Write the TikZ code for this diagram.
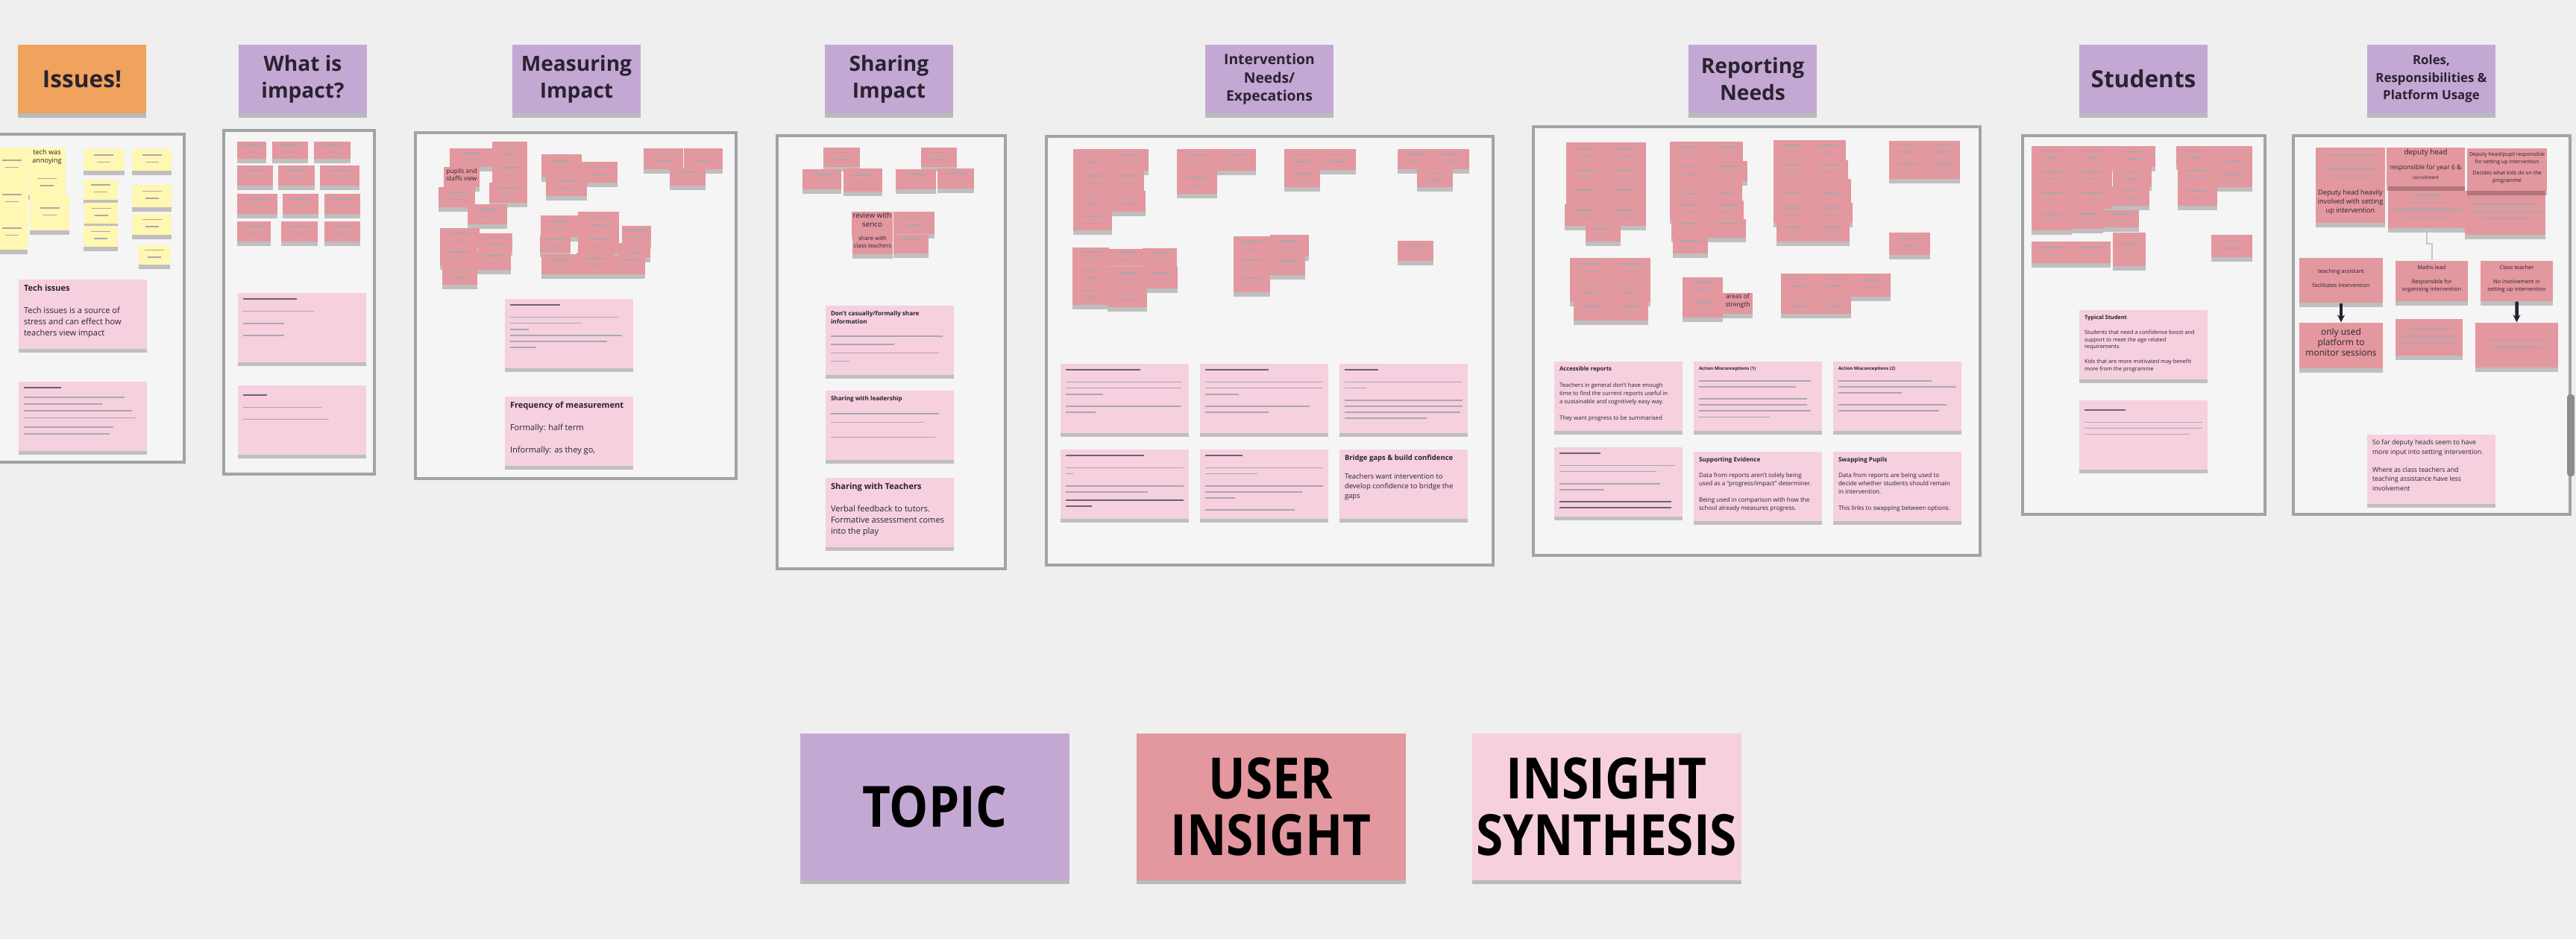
\documentclass[tikz,border=0pt]{standalone}
\usepackage{fontspec}
\setmainfont{Open Sans}
\usetikzlibrary{arrows.meta,positioning,fit,shadows}
\definecolor{boardgray}{HTML}{EFEFEF}
\definecolor{framefill}{HTML}{F5F5F5}
\definecolor{framegray}{HTML}{A3A3A3}
\definecolor{topicpurple}{HTML}{C4A8D4}
\definecolor{issueorange}{HTML}{EFA35C}
\definecolor{insightred}{HTML}{E3979E}
\definecolor{synthpink}{HTML}{F6D0DF}
\definecolor{noteyellow}{HTML}{FFF7B2}
\definecolor{inkdark}{HTML}{2A2230}
\newcommand{\scrib}[1]{\textcolor{inkdark!40}{\rule[0.1mm]{#1}{0.17mm}}}
\newcommand{\scribhead}[1]{\textcolor{inkdark!70}{\rule[0.1mm]{#1}{0.22mm}}}
\newcommand{\twolines}{\scrib{0.26cm}\\\scrib{0.18cm}}
\newcommand{\cardtxt}[1]{\parbox[c][0.78cm][t]{1.58cm}{\raggedright #1}}
\newcommand{\tallword}[1]{\scalebox{1}[1.16]{#1}}
\tikzset{
  frm/.style={draw=framegray,line width=0.35mm,fill=framefill},
  noteshadow/.style={drop shadow={shadow xshift=0mm,shadow yshift=-0.55mm,opacity=0.22,fill=black}},
  topic/.style={fill=topicpurple,minimum width=1.72cm,minimum height=0.92cm,inner sep=0pt,align=center,text=inkdark,noteshadow},
  uins/.style={fill=insightred,inner sep=0pt,align=center,text=inkdark,font=\fontsize{2}{2.7}\selectfont,noteshadow},
  ynote/.style={uins,fill=noteyellow},
  syn/.style={fill=synthpink,minimum width=1.72cm,minimum height=0.93cm,inner sep=0pt,text=inkdark,font=\fontsize{3.15}{4.3}\selectfont,noteshadow},
  synsmall/.style={syn,font=\fontsize{1.7}{2.3}\selectfont},
  legend/.style={minimum width=3.61cm,minimum height=1.97cm,inner sep=0pt,align=center,text=black,font=\fontsize{18.7}{21.5}\selectfont\bfseries,noteshadow},
  roleto/.style={-{Stealth[length=1mm,width=1mm]},line width=0.45mm,inkdark},
  faintlink/.style={draw=black!22,line width=0.2mm},
  scrollbar/.style={fill=black!45,rounded corners=0.4mm},
}

\begin{document}
\begin{tikzpicture}
  % board and frames
  \fill[boardgray] (0,0) rectangle (34.54,-12.60);
  \useasboundingbox (0,0) rectangle (34.54,-12.60);
  \draw[frm] (-0.05,-1.80) rectangle (2.47,-6.20);
  \draw[frm] (3.00,-1.75) rectangle (5.02,-6.36);
  \draw[frm] (5.57,-1.78) rectangle (9.87,-6.42);
  \draw[frm] (10.42,-1.82) rectangle (13.48,-7.63);
  \draw[frm] (14.03,-1.83) rectangle (20.02,-7.58);
  \draw[frm] (20.56,-1.70) rectangle (26.55,-7.45);
  \draw[frm] (27.12,-1.82) rectangle (30.37,-6.90);
  \draw[frm] (30.75,-1.82) rectangle (34.46,-6.90);
  \fill[scrollbar] (34.42,-5.29) rectangle (34.52,-6.39);

  % topics
  \node[topic,fill=issueorange,font=\fontsize{9}{11}\selectfont\bfseries] (tIssues) at (1.10,-1.06) {Issues!};
  \node[topic,font=\fontsize{8}{10.2}\selectfont\bfseries] (tWhat) at (4.06,-1.06) {What is\\impact?};
  \node[topic,font=\fontsize{8}{10.2}\selectfont\bfseries] (tMeasure) at (7.73,-1.06) {Measuring\\Impact};
  \node[topic,font=\fontsize{8}{10.2}\selectfont\bfseries] (tShare) at (11.92,-1.06) {Sharing\\Impact};
  \node[topic,font=\fontsize{5.5}{7.1}\selectfont\bfseries] (tInterv) at (17.02,-1.06) {Intervention\\Needs/\\Expecations};
  \node[topic,font=\fontsize{8}{10.2}\selectfont\bfseries] (tReport) at (23.50,-1.06) {Reporting\\Needs};
  \node[topic,font=\fontsize{9}{11}\selectfont\bfseries] (tStudents) at (28.74,-1.06) {Students};
  \node[topic,font=\fontsize{4.8}{6.7}\selectfont\bfseries] (tRoles) at (32.60,-1.06) {Roles,\\Responsibilities \&\\Platform Usage};

  % issues
  \node[ynote,fit={(-0.05,-1.98)(0.37,-2.45)}] (iss1) {\twolines};
  \node[ynote,fit={(-0.05,-2.45)(0.37,-2.90)}] (iss2) {\twolines};
  \node[ynote,fit={(-0.05,-2.90)(0.37,-3.35)}] (iss3) {\twolines};
  \node[ynote,fit={(0.38,-1.98)(0.88,-2.30)},font=\fontsize{2.6}{3.2}\selectfont] (iss4) {tech was\\annoying};
  \node[ynote,fit={(0.38,-2.30)(0.88,-2.62)}] (iss5) {\twolines};
  \node[ynote,fit={(0.40,-2.62)(0.93,-3.09)}] (iss6) {\twolines};
  \node[ynote,fit={(1.12,-2.00)(1.67,-2.29)}] (iss7) {\twolines};
  \node[ynote,fit={(1.12,-2.41)(1.58,-2.68)}] (iss8) {\twolines};
  \node[ynote,fit={(1.13,-2.72)(1.58,-3.00)}] (iss9) {\twolines};
  \node[ynote,fit={(1.12,-3.03)(1.58,-3.31)}] (iss10) {\twolines};
  \node[ynote,fit={(1.77,-2.00)(2.30,-2.29)}] (iss11) {\twolines};
  \node[ynote,fit={(1.77,-2.48)(2.30,-2.78)}] (iss12) {\twolines};
  \node[ynote,fit={(1.77,-2.87)(2.30,-3.15)}] (iss13) {\twolines};
  \node[ynote,fit={(1.86,-3.29)(2.28,-3.55)}] (iss14) {\twolines};
  \node[syn] (issA) at (1.11,-4.21) {\cardtxt{\textbf{Tech issues}\\[4.3pt]Tech issues is a source of\\stress and can effect how\\teachers view impact}};
  \node[synsmall,font=\fontsize{1.7}{2.6}\selectfont] (issB) at (1.11,-5.58) {\cardtxt{\scribhead{0.50cm}\\[1pt]\scrib{1.35cm}\\\scrib{1.05cm}\\\scrib{1.45cm}\\\scrib{1.50cm}\\[1pt]\scrib{1.20cm}\\\scrib{1.15cm}}};

  % what is impact
  \node[uins,fit={(3.18,-1.90)(3.57,-2.13)}] (what1) {\twolines};
  \node[uins,fit={(3.65,-1.90)(4.13,-2.13)}] (what2) {\twolines};
  \node[uins,fit={(4.21,-1.90)(4.70,-2.13)}] (what3) {\twolines};
  \node[uins,fit={(3.18,-2.22)(3.66,-2.49)}] (what4) {\twolines};
  \node[uins,fit={(3.73,-2.22)(4.22,-2.49)}] (what5) {\twolines};
  \node[uins,fit={(4.29,-2.22)(4.82,-2.49)}] (what6) {\twolines};
  \node[uins,fit={(3.18,-2.60)(3.72,-2.87)}] (what7) {\twolines};
  \node[uins,fit={(3.79,-2.60)(4.27,-2.87)}] (what8) {\twolines};
  \node[uins,fit={(4.35,-2.60)(4.83,-2.87)}] (what9) {\twolines};
  \node[uins,fit={(3.18,-2.97)(3.63,-3.24)}] (what10) {\twolines};
  \node[uins,fit={(3.77,-2.97)(4.26,-3.24)}] (what11) {\twolines};
  \node[uins,fit={(4.35,-2.97)(4.83,-3.24)}] (what12) {\twolines};
  \node[synsmall] (whatA) at (4.05,-4.39) {\cardtxt{\scribhead{0.72cm}\\[2.3pt]\scrib{0.95cm}\\[2.3pt]\scrib{0.55cm}\\[2.3pt]\scrib{0.55cm}}};
  \node[synsmall] (whatB) at (4.05,-5.63) {\cardtxt{\mbox{}\\\scribhead{0.32cm}\\[2.3pt]\scrib{1.05cm}\\[2.3pt]\scrib{1.15cm}}};

  % measuring impact
  \node[uins,fit={(6.03,-1.99)(6.60,-2.24)}] (meas1) {\twolines};
  \node[uins,fit={(6.60,-1.90)(7.07,-2.18)}] (meas2) {\twolines};
  \node[uins,fit={(6.60,-2.18)(7.07,-2.45)}] (meas3) {\twolines};
  \node[uins,fit={(5.95,-2.24)(6.43,-2.51)},font=\fontsize{2.4}{3}\selectfont] (meas4) {pupils and\\staffs view};
  \node[uins,fit={(5.88,-2.51)(6.37,-2.78)}] (meas5) {\twolines};
  \node[uins,fit={(6.56,-2.45)(7.07,-2.72)}] (meas6) {\twolines};
  \node[uins,fit={(6.27,-2.74)(6.80,-3.01)}] (meas7) {\twolines};
  \node[uins,fit={(7.26,-2.07)(7.80,-2.38)}] (meas8) {\twolines};
  \node[uins,fit={(7.79,-2.17)(8.28,-2.45)}] (meas9) {\twolines};
  \node[uins,fit={(7.32,-2.36)(7.87,-2.63)}] (meas10) {\twolines};
  \node[uins,fit={(8.63,-1.99)(9.16,-2.27)}] (meas11) {\twolines};
  \node[uins,fit={(9.17,-1.99)(9.69,-2.27)}] (meas12) {\twolines};
  \node[uins,fit={(8.98,-2.26)(9.46,-2.49)}] (meas13) {\twolines};
  \node[uins,fit={(5.90,-3.06)(6.43,-3.33)}] (meas14) {\twolines};
  \node[uins,fit={(6.42,-3.13)(6.87,-3.37)}] (meas15) {\twolines};
  \node[uins,fit={(5.90,-3.33)(6.39,-3.56)}] (meas16) {\twolines};
  \node[uins,fit={(6.39,-3.37)(6.85,-3.62)}] (meas17) {\twolines};
  \node[uins,fit={(5.93,-3.56)(6.40,-3.82)}] (meas18) {\twolines};
  \node[uins,fit={(7.25,-2.89)(7.75,-3.18)}] (meas19) {\twolines};
  \node[uins,fit={(7.75,-2.84)(8.30,-3.14)}] (meas20) {\twolines};
  \node[uins,fit={(7.24,-3.16)(7.65,-3.39)}] (meas21) {\twolines};
  \node[uins,fit={(7.75,-3.14)(8.30,-3.41)}] (meas22) {\twolines};
  \node[uins,fit={(8.34,-3.03)(8.73,-3.28)}] (meas23) {\twolines};
  \node[uins,fit={(8.29,-3.26)(8.72,-3.46)}] (meas24) {\twolines};
  \node[uins,fit={(7.26,-3.41)(7.73,-3.68)}] (meas25) {\twolines};
  \node[uins,fit={(7.73,-3.39)(8.23,-3.68)}] (meas26) {\twolines};
  \node[uins,fit={(8.23,-3.43)(8.65,-3.68)}] (meas27) {\twolines};
  \node[synsmall] (measA) at (7.63,-4.47) {\cardtxt{\scribhead{0.67cm}\\[2.3pt]\scrib{1.45cm}\\\scrib{0.95cm}\\\scrib{0.25cm}\\\scrib{1.50cm}\\\scrib{1.30cm}\\\scrib{0.35cm}}};
  \node[syn] (measB) at (7.63,-5.78) {\cardtxt{\textbf{Frequency of measurement}\\[4.3pt]Formally: half term\\[4.3pt]Informally: as they go,}};

  % sharing impact
  \node[uins,fit={(11.04,-1.98)(11.53,-2.24)}] (share1) {\twolines};
  \node[uins,fit={(10.76,-2.27)(11.28,-2.54)}] (share2) {\twolines};
  \node[uins,fit={(11.31,-2.26)(11.83,-2.57)}] (share3) {\twolines};
  \node[uins,fit={(12.35,-1.98)(12.83,-2.24)}] (share4) {\twolines};
  \node[uins,fit={(12.01,-2.27)(12.55,-2.54)}] (share5) {\twolines};
  \node[uins,fit={(12.57,-2.26)(13.06,-2.53)}] (share6) {\twolines};
  \node[uins,fit={(11.42,-2.84)(11.97,-3.14)},font=\fontsize{2.8}{3.4}\selectfont] (share7) {review with\\senco};
  \node[uins,fit={(11.98,-2.84)(12.53,-3.14)}] (share8) {\twolines};
  \node[uins,fit={(11.43,-3.14)(11.97,-3.41)},font=\fontsize{2.2}{3}\selectfont] (share9) {share with\\class teachers};
  \node[uins,fit={(11.98,-3.15)(12.45,-3.40)}] (share10) {\twolines};
  \node[syn,font=\fontsize{2.3}{3.2}\selectfont] (shareA) at (11.93,-4.56) {\cardtxt{\textbf{Don't casually/formally share}\\\textbf{information}\\[2pt]\scrib{1.50cm}\\\scrib{0.85cm}\\\scrib{1.45cm}\\\scrib{0.25cm}}};
  \node[syn,font=\fontsize{2.3}{3.2}\selectfont] (shareB) at (11.93,-5.70) {\cardtxt{\textbf{Sharing with leadership}\\[2.5pt]\scrib{1.45cm}\\\scrib{1.25cm}\\[2.5pt]\scrib{1.40cm}}};
  \node[syn] (shareC) at (11.93,-6.87) {\cardtxt{\textbf{Sharing with Teachers}\\[4.3pt]Verbal feedback to tutors.\\Formative assessment comes\\into the play}};

  % intervention needs
  \node[uins,fit={(14.39,-2.00)(14.91,-2.30)}] (int1) {\twolines};
  \node[uins,fit={(14.91,-2.00)(15.40,-2.29)}] (int2) {\twolines};
  \node[uins,fit={(14.39,-2.29)(14.91,-2.56)}] (int3) {\twolines};
  \node[uins,fit={(14.91,-2.29)(15.34,-2.56)}] (int4) {\twolines};
  \node[uins,fit={(14.39,-2.56)(14.91,-2.84)}] (int5) {\twolines};
  \node[uins,fit={(14.91,-2.56)(15.36,-2.84)}] (int6) {\twolines};
  \node[uins,fit={(14.39,-2.84)(14.91,-3.09)}] (int7) {\twolines};
  \node[uins,fit={(15.78,-2.00)(16.32,-2.29)}] (int8) {\twolines};
  \node[uins,fit={(16.32,-2.00)(16.84,-2.29)}] (int9) {\twolines};
  \node[uins,fit={(15.78,-2.29)(16.32,-2.60)}] (int10) {\twolines};
  \node[uins,fit={(17.22,-2.00)(17.70,-2.28)}] (int11) {\twolines};
  \node[uins,fit={(17.70,-2.00)(18.18,-2.28)}] (int12) {\twolines};
  \node[uins,fit={(17.22,-2.28)(17.70,-2.51)}] (int13) {\twolines};
  \node[uins,fit={(18.74,-2.00)(19.22,-2.27)}] (int14) {\twolines};
  \node[uins,fit={(19.22,-2.00)(19.70,-2.27)}] (int15) {\twolines};
  \node[uins,fit={(19.00,-2.27)(19.48,-2.51)}] (int16) {\twolines};
  \node[uins,fit={(14.38,-3.32)(14.87,-3.57)}] (int17) {\twolines};
  \node[uins,fit={(14.87,-3.34)(15.32,-3.57)}] (int18) {\twolines};
  \node[uins,fit={(15.32,-3.33)(15.78,-3.58)}] (int19) {\twolines};
  \node[uins,fit={(14.38,-3.57)(14.85,-3.83)}] (int20) {\twolines};
  \node[uins,fit={(14.85,-3.58)(15.36,-3.87)}] (int21) {\twolines};
  \node[uins,fit={(15.36,-3.58)(15.79,-3.87)}] (int22) {\twolines};
  \node[uins,fit={(14.38,-3.83)(14.85,-4.09)}] (int23) {\twolines};
  \node[uins,fit={(14.85,-3.86)(15.38,-4.12)}] (int24) {\twolines};
  \node[uins,fit={(16.54,-3.17)(17.03,-3.44)}] (int25) {\twolines};
  \node[uins,fit={(17.03,-3.15)(17.55,-3.44)}] (int26) {\twolines};
  \node[uins,fit={(16.54,-3.44)(17.03,-3.67)}] (int27) {\twolines};
  \node[uins,fit={(17.03,-3.44)(17.50,-3.69)}] (int28) {\twolines};
  \node[uins,fit={(16.54,-3.67)(17.03,-3.92)}] (int29) {\twolines};
  \node[uins,fit={(18.74,-3.23)(19.22,-3.50)}] (int30) {\twolines};
  \node[synsmall] (intA) at (15.08,-5.34) {\cardtxt{\scribhead{1.00cm}\\[2.3pt]\scrib{1.55cm}\\\scrib{1.55cm}\\\scrib{0.50cm}\\[2.3pt]\scrib{1.55cm}\\\scrib{0.40cm}}};
  \node[synsmall] (intB) at (16.95,-5.34) {\cardtxt{\scribhead{0.85cm}\\[2.3pt]\scrib{1.58cm}\\\scrib{1.58cm}\\\scrib{0.45cm}\\[2.3pt]\scrib{1.40cm}\\\scrib{0.85cm}}};
  \node[synsmall] (intC) at (18.82,-5.34) {\cardtxt{\scribhead{0.45cm}\\[2.3pt]\scrib{1.58cm}\\\scrib{0.30cm}\\[2.3pt]\scrib{1.58cm}\\\scrib{1.58cm}\\\scrib{1.55cm}\\\scrib{1.10cm}}};
  \node[synsmall] (intD) at (15.08,-6.49) {\cardtxt{\scribhead{1.05cm}\\[2.3pt]\scrib{1.58cm}\\\scrib{0.10cm}\\[2.3pt]\scrib{1.58cm}\\\scrib{1.10cm}\\[1pt]\scribhead{1.58cm}\\\scribhead{0.35cm}}};
  \node[synsmall] (intE) at (16.95,-6.49) {\cardtxt{\scribhead{0.50cm}\\[2.3pt]\scrib{1.58cm}\\\scrib{0.70cm}\\[2.3pt]\scrib{1.58cm}\\\scrib{1.30cm}\\\scrib{0.40cm}\\[2.3pt]\scrib{1.20cm}}};
  \node[syn,font=\fontsize{2.7}{3.65}\selectfont] (intF) at (18.82,-6.49) {\cardtxt{\textbf{Bridge gaps \& build confidence}\\[3.65pt]Teachers want intervention to\\develop confidence to bridge the\\gaps}};

  % reporting needs
  \node[uins,fit={(21.00,-1.91)(21.52,-2.22)}] (rep1) {\twolines};
  \node[uins,fit={(21.52,-1.91)(22.07,-2.22)}] (rep2) {\twolines};
  \node[uins,fit={(21.00,-2.22)(21.52,-2.49)}] (rep3) {\twolines};
  \node[uins,fit={(21.52,-2.22)(22.07,-2.49)}] (rep4) {\twolines};
  \node[uins,fit={(21.00,-2.49)(21.52,-2.74)}] (rep5) {\twolines};
  \node[uins,fit={(21.52,-2.49)(22.07,-2.74)}] (rep6) {\twolines};
  \node[uins,fit={(20.98,-2.74)(21.52,-3.03)}] (rep7) {\twolines};
  \node[uins,fit={(21.52,-2.74)(22.07,-3.03)}] (rep8) {\twolines};
  \node[uins,fit={(21.26,-3.03)(21.73,-3.24)}] (rep9) {\twolines};
  \node[uins,fit={(22.39,-1.90)(22.92,-2.17)}] (rep10) {\twolines};
  \node[uins,fit={(22.92,-1.90)(23.37,-2.17)}] (rep11) {\twolines};
  \node[uins,fit={(22.39,-2.17)(22.92,-2.45)}] (rep12) {\twolines};
  \node[uins,fit={(22.92,-2.16)(23.43,-2.43)}] (rep13) {\twolines};
  \node[uins,fit={(22.39,-2.45)(22.92,-2.69)}] (rep14) {\twolines};
  \node[uins,fit={(22.92,-2.43)(23.36,-2.69)}] (rep15) {\twolines};
  \node[uins,fit={(22.39,-2.69)(22.92,-2.94)}] (rep16) {\twolines};
  \node[uins,fit={(22.92,-2.69)(23.38,-2.94)}] (rep17) {\twolines};
  \node[uins,fit={(22.41,-2.94)(22.92,-3.19)}] (rep18) {\twolines};
  \node[uins,fit={(22.92,-2.94)(23.41,-3.19)}] (rep19) {\twolines};
  \node[uins,fit={(22.43,-3.19)(22.90,-3.40)}] (rep20) {\twolines};
  \node[uins,fit={(23.78,-1.88)(24.26,-2.15)}] (rep21) {\twolines};
  \node[uins,fit={(24.26,-1.88)(24.75,-2.15)}] (rep22) {\twolines};
  \node[uins,fit={(23.78,-2.15)(24.26,-2.40)}] (rep23) {\twolines};
  \node[uins,fit={(24.26,-2.15)(24.78,-2.40)}] (rep24) {\twolines};
  \node[uins,fit={(23.78,-2.40)(24.26,-2.72)}] (rep25) {\twolines};
  \node[uins,fit={(24.26,-2.40)(24.82,-2.72)}] (rep26) {\twolines};
  \node[uins,fit={(23.78,-2.72)(24.26,-2.99)}] (rep27) {\twolines};
  \node[uins,fit={(24.26,-2.72)(24.84,-2.99)}] (rep28) {\twolines};
  \node[uins,fit={(23.82,-2.99)(24.30,-3.24)}] (rep29) {\twolines};
  \node[uins,fit={(24.30,-2.99)(24.80,-3.24)}] (rep30) {\twolines};
  \node[uins,fit={(25.33,-1.89)(25.81,-2.13)}] (rep31) {\twolines};
  \node[uins,fit={(25.81,-1.89)(26.28,-2.13)}] (rep32) {\twolines};
  \node[uins,fit={(25.33,-2.13)(25.81,-2.40)}] (rep33) {\twolines};
  \node[uins,fit={(25.81,-2.13)(26.28,-2.40)}] (rep34) {\twolines};
  \node[uins,fit={(25.33,-3.12)(25.88,-3.42)}] (rep35) {\twolines};
  \node[uins,fit={(21.05,-3.46)(21.58,-3.75)}] (rep36) {\twolines};
  \node[uins,fit={(21.58,-3.46)(22.13,-3.75)}] (rep37) {\twolines};
  \node[uins,fit={(21.05,-3.75)(21.58,-4.05)}] (rep38) {\twolines};
  \node[uins,fit={(21.58,-3.75)(22.13,-4.05)}] (rep39) {\twolines};
  \node[uins,fit={(21.10,-4.05)(21.58,-4.30)}] (rep40) {\twolines};
  \node[uins,fit={(21.58,-4.05)(22.10,-4.30)}] (rep41) {\twolines};
  \node[uins,fit={(22.56,-3.72)(23.10,-3.99)}] (rep42) {\twolines};
  \node[uins,fit={(22.56,-3.99)(23.10,-4.26)}] (rep43) {\twolines};
  \node[uins,fit={(23.10,-3.93)(23.50,-4.21)},font=\fontsize{2.4}{3}\selectfont] (rep44) {areas of\\strength};
  \node[uins,fit={(23.88,-3.67)(24.36,-3.95)}] (rep45) {\twolines};
  \node[uins,fit={(24.36,-3.67)(24.82,-3.95)}] (rep46) {\twolines};
  \node[uins,fit={(24.82,-3.67)(25.35,-3.98)}] (rep47) {\twolines};
  \node[uins,fit={(23.88,-3.95)(24.36,-4.21)}] (rep48) {\twolines};
  \node[uins,fit={(24.36,-3.95)(24.82,-4.21)}] (rep49) {\twolines};
  \node[syn,font=\fontsize{2.2}{3.1}\selectfont] (repA) at (21.70,-5.31) {\cardtxt{\textbf{Accessible reports}\\[3.1pt]Teachers in general don't have enough\\time to find the current reports useful in\\a sustainable and cognitively easy way.\\[3.1pt]They want progress to be summarised}};
  \node[synsmall] (repB) at (23.57,-5.31) {\cardtxt{\textbf{Action Misconceptions (1)}\\[2.3pt]\scrib{1.50cm}\\\scrib{1.30cm}\\[2.3pt]\scrib{1.45cm}\\\scrib{1.45cm}\\\scrib{1.50cm}\\\scrib{0.95cm}}};
  \node[synsmall] (repC) at (25.44,-5.31) {\cardtxt{\textbf{Action Misconceptions (2)}\\[2.3pt]\scrib{1.25cm}\\\scrib{1.58cm}\\\scrib{0.85cm}\\[2.3pt]\scrib{1.45cm}\\\scrib{1.35cm}}};
  \node[synsmall] (repD) at (21.70,-6.46) {\cardtxt{\scribhead{0.55cm}\\[2.3pt]\scrib{1.55cm}\\\scrib{1.30cm}\\[2.3pt]\scrib{1.35cm}\\\scrib{0.60cm}\\[2.3pt]\scribhead{1.50cm}\\\scribhead{1.50cm}}};
  \node[syn,font=\fontsize{2.3}{3.1}\selectfont] (repE) at (23.57,-6.52) {\cardtxt{\textbf{Supporting Evidence}\\[3.1pt]Data from reports aren't solely being\\used as a ``progress/impact'' determiner.\\[3.1pt]Being used in comparison with how the\\school already measures progress.}};
  \node[syn,font=\fontsize{2.3}{3.1}\selectfont] (repF) at (25.44,-6.52) {\cardtxt{\textbf{Swapping Pupils}\\[3.1pt]Data from reports are being used to\\decide whether students should remain\\in intervention.\\[3.1pt]This links to swapping between options.}};

  % students
  \node[uins,fit={(27.24,-1.96)(27.78,-2.22)}] (stu1) {\twolines};
  \node[uins,fit={(27.78,-1.96)(28.32,-2.22)}] (stu2) {\twolines};
  \node[uins,fit={(28.32,-1.96)(28.90,-2.24)}] (stu3) {\twolines};
  \node[uins,fit={(27.24,-2.22)(27.78,-2.51)}] (stu4) {\twolines};
  \node[uins,fit={(27.78,-2.22)(28.32,-2.51)}] (stu5) {\twolines};
  \node[uins,fit={(28.33,-2.24)(28.85,-2.50)}] (stu6) {\twolines};
  \node[uins,fit={(27.24,-2.51)(27.78,-2.80)}] (stu7) {\twolines};
  \node[uins,fit={(27.78,-2.51)(28.32,-2.80)}] (stu8) {\twolines};
  \node[uins,fit={(28.32,-2.50)(28.82,-2.76)}] (stu9) {\twolines};
  \node[uins,fit={(27.24,-2.80)(27.78,-3.09)}] (stu10) {\twolines};
  \node[uins,fit={(27.78,-2.80)(28.20,-3.07)}] (stu11) {\twolines};
  \node[uins,fit={(28.20,-2.82)(28.68,-3.05)}] (stu12) {\twolines};
  \node[uins,fit={(27.24,-3.24)(27.78,-3.53)}] (stu13) {\twolines};
  \node[uins,fit={(27.78,-3.24)(28.30,-3.53)}] (stu14) {\twolines};
  \node[uins,fit={(28.33,-3.12)(28.77,-3.57)}] (stu15) {\twolines};
  \node[uins,fit={(29.18,-1.96)(29.67,-2.22)}] (stu16) {\twolines};
  \node[uins,fit={(29.67,-1.96)(30.20,-2.30)}] (stu17) {\twolines};
  \node[uins,fit={(29.67,-2.30)(30.20,-2.51)}] (stu18) {\twolines};
  \node[uins,fit={(29.20,-2.22)(29.67,-2.49)}] (stu19) {\twolines};
  \node[uins,fit={(29.20,-2.49)(29.73,-2.76)}] (stu20) {\twolines};
  \node[uins,fit={(29.65,-3.15)(30.20,-3.45)}] (stu21) {\twolines};
  \node[syn,font=\fontsize{2.1}{2.8}\selectfont] (stuA) at (28.74,-4.62) {\cardtxt{\textbf{Typical Student}\\[2.8pt]Students that need a confidence boost and\\support to meet the age related requirements.\\[2.8pt]Kids that are more motivated may benefit\\more from the programme}};
  \node[synsmall] (stuB) at (28.74,-5.83) {\cardtxt{\mbox{}\\\scribhead{0.55cm}\\[2.3pt]\scrib{1.58cm}\\\scrib{1.58cm}\\\scrib{1.40cm}}};

  % roles and platform usage
  \node[uins,fit={(31.05,-1.98)(31.98,-2.50)}] (role1) {\scrib{0.70cm}\\\scrib{0.80cm}\\\scrib{0.70cm}\\\scrib{0.55cm}};
  \node[uins,fit={(31.05,-2.50)(31.98,-2.99)},font=\fontsize{2.6}{3.5}\selectfont] (role2) {Deputy head heavily\\involved with setting\\up intervention};
  \node[uins,fit={(32.02,-2.50)(33.05,-3.06)}] (role4) {\scrib{0.40cm}\\\scrib{0.55cm}\\\scrib{0.95cm}\\\scrib{0.60cm}};
  \node[uins,fit={(32.00,-1.98)(33.05,-2.50)},font=\fontsize{2.8}{3.6}\selectfont] (role3) {deputy head\\[2pt]{\fontsize{2.45}{3.2}\selectfont responsible for year 6 \&}\\{\fontsize{1.8}{2.4}\selectfont recruitment}};
  \node[uins,fit={(33.05,-2.56)(34.13,-3.15)}] (role6) {\scrib{0.90cm}\\\scrib{0.95cm}\\\scrib{0.60cm}};
  \node[uins,fit={(33.08,-1.99)(34.15,-2.56)},font=\fontsize{2}{2.8}\selectfont] (role5) {Deputy head/pupil responsible\\for setting up intervention\\[1.5pt]Decides what kids do on the\\programme};
  \node[uins,fit={(30.83,-3.46)(31.95,-4.06)},font=\fontsize{2.1}{2.9}\selectfont] (roleTA) {teaching assistant\\[2.5pt]facilitates intervention};
  \node[uins,fit={(32.12,-3.50)(33.09,-4.04)},font=\fontsize{2.1}{2.9}\selectfont] (roleML) {Maths lead\\[2.5pt]Responsible for\\organising intervention};
  \node[uins,fit={(33.26,-3.50)(34.23,-4.04)},font=\fontsize{2.1}{2.9}\selectfont] (roleCT) {Class teacher\\[2.5pt]No involvement in\\setting up intervention};
  \node[uins,fit={(30.83,-4.33)(31.95,-4.94)},font=\fontsize{3.4}{3.9}\selectfont] (roleTAuse) {only used\\platform to\\monitor sessions};
  \node[uins,fit={(32.12,-4.28)(33.02,-4.77)}] (roleMLuse) {\scrib{0.55cm}\\\scrib{0.75cm}\\\scrib{0.70cm}};
  \node[uins,fit={(33.19,-4.33)(34.30,-4.93)}] (roleCTuse) {\scrib{0.80cm}\\\scrib{0.65cm}};
  \draw[roleto] (roleTA) -- (roleTAuse);
  \draw[roleto] (roleCT) -- (roleCTuse);
  \draw[faintlink] (role4.south) -- ++(0,-0.2) -| (roleML.north);
  \node[syn,font=\fontsize{2.5}{3.5}\selectfont] (roleA) at (32.60,-6.29) {\cardtxt{So far deputy heads seem to have\\more input into setting intervention.\\[3.5pt]Where as class teachers and\\teaching assistance have less\\involvement}};

  % legend
  \node[legend,fill=topicpurple] (lgTopic) at (12.53,-10.82) {\tallword{TOPIC}};
  \node[legend,fill=insightred] (lgUser) at (17.04,-10.82) {\tallword{USER}\\\tallword{INSIGHT}};
  \node[legend,fill=synthpink] (lgSynth) at (21.54,-10.82) {\tallword{INSIGHT}\\\tallword{SYNTHESIS}};
\end{tikzpicture}
\end{document}
